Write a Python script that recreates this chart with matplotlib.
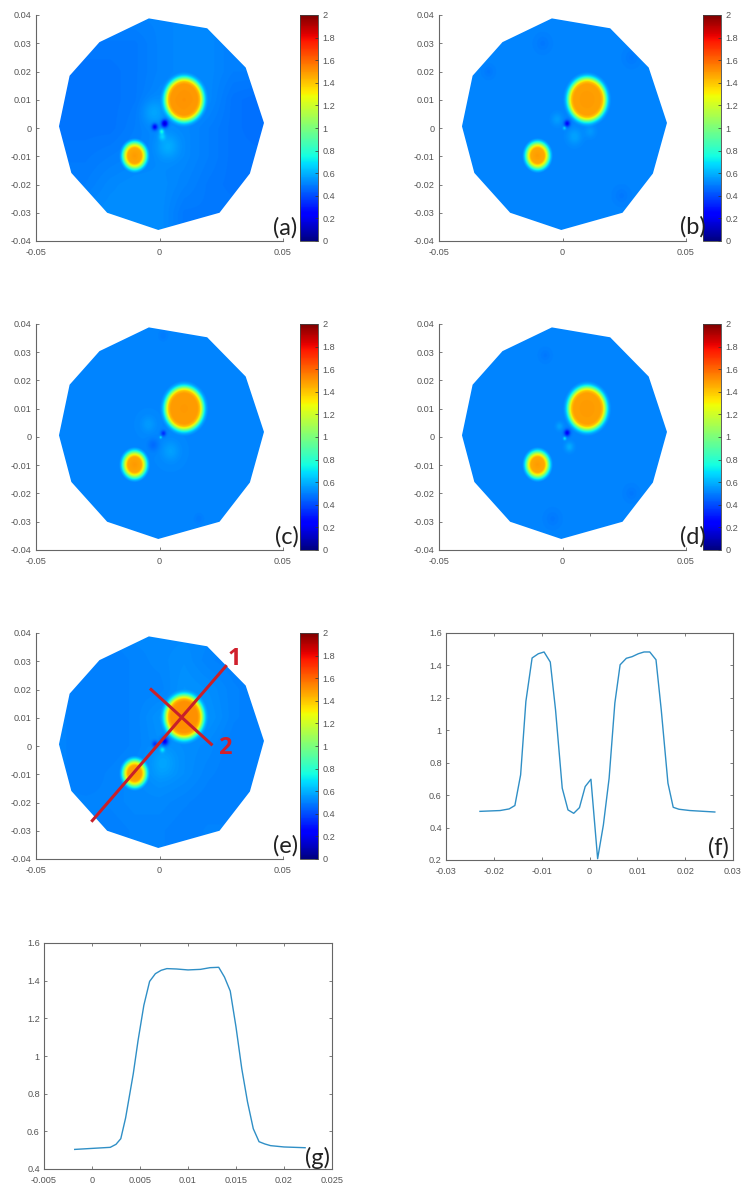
import numpy as np
import matplotlib
matplotlib.use("Agg")
import matplotlib.pyplot as plt
from matplotlib.patches import Polygon

W, H = 741, 1184
plt.rcParams["font.family"] = ["Liberation Sans", "DejaVu Sans"]

# domain outline, same for all maps
poly_x = [-0.0043, 0.0193, 0.0349, 0.0423, 0.0366, 0.0243, -0.0005, -0.0212, -0.0357, -0.0407, -0.0364, -0.0243]
poly_y = [0.0388, 0.0353, 0.0214, 0.0018, -0.0161, -0.0300, -0.0361, -0.0300, -0.0159, 0.0006, 0.0185, 0.0304]

# radial profiles of the two inclusions
big_center = (0.0100, 0.0101)
big_r = [0, 0.0055, 0.0064, 0.0071, 0.0077, 0.0083, 0.0090, 0.0098]
big_v = [0.98, 0.97, 0.89, 0.66, 0.41, 0.19, 0.06, 0.0]
small_center = (-0.0101, -0.0098)
small_r = [0, 0.0028, 0.0035, 0.0042, 0.0048, 0.0054, 0.0062]
small_v = [0.98, 0.95, 0.80, 0.55, 0.30, 0.12, 0.0]

# coarse background estimates, rows from y=0.04 down to y=-0.04, columns x=-0.04 to 0.04
bg_grid = [-0.04, -0.03, -0.02, -0.01, 0, 0.01, 0.02, 0.03, 0.04]
bg_a = [[0.51, 0.51, 0.51, 0.51, 0.51, 0.52, 0.52, 0.51, 0.51],
        [0.49, 0.49, 0.49, 0.49, 0.51, 0.52, 0.52, 0.50, 0.50],
        [0.48, 0.48, 0.48, 0.49, 0.51, 0.52, 0.52, 0.50, 0.50],
        [0.48, 0.48, 0.48, 0.49, 0.52, 0.53, 0.52, 0.48, 0.47],
        [0.48, 0.48, 0.48, 0.50, 0.52, 0.52, 0.50, 0.48, 0.47],
        [0.49, 0.49, 0.50, 0.51, 0.52, 0.52, 0.50, 0.48, 0.48],
        [0.50, 0.50, 0.52, 0.53, 0.53, 0.51, 0.49, 0.48, 0.48],
        [0.51, 0.52, 0.53, 0.53, 0.53, 0.49, 0.49, 0.49, 0.49],
        [0.51, 0.52, 0.53, 0.53, 0.53, 0.49, 0.49, 0.49, 0.49]]
bg_b = [[0.51] * 9] * 9
bg_c = [[0.515] * 9] * 9
bg_d = [[0.51] * 9] * 9
bg_e = [[0.51, 0.51, 0.51, 0.52, 0.52, 0.52, 0.52, 0.51, 0.51],
        [0.50, 0.50, 0.50, 0.51, 0.52, 0.53, 0.51, 0.50, 0.50],
        [0.51, 0.50, 0.50, 0.51, 0.51, 0.54, 0.53, 0.51, 0.50],
        [0.51, 0.50, 0.50, 0.51, 0.54, 0.54, 0.54, 0.51, 0.50],
        [0.51, 0.50, 0.50, 0.51, 0.53, 0.53, 0.52, 0.50, 0.50],
        [0.51, 0.50, 0.51, 0.52, 0.54, 0.53, 0.51, 0.50, 0.50],
        [0.51, 0.51, 0.51, 0.52, 0.52, 0.51, 0.50, 0.50, 0.50],
        [0.51, 0.51, 0.50, 0.51, 0.51, 0.50, 0.51, 0.51, 0.51],
        [0.51, 0.51, 0.50, 0.51, 0.51, 0.50, 0.51, 0.51, 0.51]]

# local spots: x, y, amplitude, width
spots_a = [(0.0021, 0.0016, -0.38, 0.0009), (-0.0019, 0.0004, -0.28, 0.0008), (0.0009, -0.0012, 0.22, 0.0006),
           (0.0011, -0.0030, 0.12, 0.0009), (-0.0025, 0.0055, 0.06, 0.0030), (0.0034, -0.0065, 0.07, 0.0030)]
spots_b = [(0.0019, 0.0016, -0.26, 0.0008), (0.0008, 0.0000, 0.18, 0.0004), (-0.0022, 0.0031, 0.05, 0.0015),
           (0.0049, -0.0030, 0.06, 0.0020), (0.0112, -0.0012, 0.04, 0.0015), (-0.0080, 0.0300, -0.02, 0.0020),
           (0.0280, 0.0250, -0.02, 0.0020), (0.0240, -0.0240, -0.02, 0.0020), (-0.0300, 0.0200, -0.02, 0.0015)]
spots_c = [(0.0016, 0.0013, -0.18, 0.0007), (0.0005, -0.0001, 0.22, 0.0003), (-0.0045, 0.0045, 0.04, 0.0020),
           (0.0045, -0.0050, 0.05, 0.0025), (-0.0025, -0.0028, -0.05, 0.0015), (0.0160, -0.0290, -0.02, 0.0015),
           (0.0015, 0.0360, -0.02, 0.0015)]
spots_d = [(0.0019, 0.0015, -0.28, 0.0008), (0.0009, -0.0005, 0.22, 0.0004), (-0.0012, 0.0038, 0.06, 0.0010),
           (0.0028, -0.0035, 0.08, 0.0012), (-0.0070, 0.0290, -0.02, 0.0015), (0.0280, -0.0200, -0.02, 0.0018),
           (-0.0040, -0.0290, -0.02, 0.0020)]
spots_e = [(0.0021, 0.0015, -0.30, 0.0010), (-0.0018, 0.0005, -0.18, 0.0008), (0.0012, -0.0015, 0.18, 0.0006),
           (0.0015, -0.0060, 0.04, 0.0035)]

panels = [
    ("(a)", bg_a, spots_a, (36, 15), (285, 228)),
    ("(b)", bg_b, spots_b, (439, 15), (693, 227)),
    ("(c)", bg_c, spots_c, (36, 324), (287, 537)),
    ("(d)", bg_d, spots_d, (439, 324), (693, 537)),
    ("(e)", bg_e, spots_e, (36, 633), (286, 846)),
]

# section lines on map (e)
line1_x = [-0.0272, 0.0268]
line1_y = [-0.0264, 0.0282]
line2_x = [-0.0034, 0.0210]
line2_y = [0.0200, 0.0006]

# section 1 (f)
f_x = [-0.0229, -0.0187, -0.0168, -0.0156, -0.0144, -0.0133, -0.0120, -0.0107, -0.0095, -0.0082, -0.0071, -0.0057,
       -0.0045, -0.0033, -0.0021, -0.0009, 0.0003, 0.0017, 0.0029, 0.0041, 0.0053, 0.0064, 0.0077, 0.0089, 0.0102,
       0.0114, 0.0126, 0.0139, 0.0150, 0.0164, 0.0175, 0.0187, 0.0210, 0.0262]
f_y = [0.50, 0.505, 0.515, 0.536, 0.725, 1.178, 1.446, 1.472, 1.483, 1.421, 1.126, 0.643, 0.509, 0.488, 0.523, 0.653,
       0.698, 0.208, 0.416, 0.704, 1.168, 1.404, 1.444, 1.454, 1.472, 1.483, 1.483, 1.435, 1.126, 0.674, 0.525, 0.513,
       0.505, 0.496]

# section 2 (g)
g_x = [-0.0018, 0.0019, 0.0025, 0.0030, 0.0035, 0.0043, 0.0048, 0.0054, 0.0060, 0.0066, 0.0072, 0.0078, 0.0088, 0.0100,
       0.0113, 0.0123, 0.0132, 0.0138, 0.0144, 0.0150, 0.0156, 0.0162, 0.0168, 0.0174, 0.0180, 0.0186, 0.0200, 0.0222]
g_y = [0.504, 0.515, 0.531, 0.561, 0.671, 0.906, 1.083, 1.269, 1.396, 1.437, 1.455, 1.464, 1.462, 1.457, 1.460, 1.469,
       1.471, 1.419, 1.345, 1.154, 0.933, 0.756, 0.614, 0.545, 0.533, 0.524, 0.517, 0.513]

GRAY = "#666666"
TEXT = "#555555"
FS = 6.6


def px_axes(left, top, right, bottom):
    return fig.add_axes([left / W, 1 - bottom / H, (right - left) / W, (bottom - top) / H])


def style(ax, box=False):
    for side in ["top", "right"]:
        ax.spines[side].set_visible(box)
    for s in ax.spines.values():
        s.set_color(GRAY)
        s.set_linewidth(0.8)
    ax.tick_params(direction="in", length=2, width=0.6, color=GRAY, labelcolor=TEXT, labelsize=FS, top=box, right=box)
    ax.tick_params(axis="x", pad=5)
    ax.tick_params(axis="y", pad=3)


def fmt(vals):
    return ["%g" % round(v, 4) for v in vals]


def background(table, xs, ys):
    # bilinear lookup in the coarse table
    table = np.array(table)[::-1]
    rows = np.array([np.interp(xs, bg_grid, row) for row in table])
    return np.array([[np.interp(y, bg_grid, rows[:, j]) for j in range(len(xs))] for y in ys])


def make_field(table, spots):
    xs = np.linspace(-0.05, 0.05, 500)
    ys = np.linspace(-0.04, 0.04, 460)
    X, Y = np.meshgrid(xs, ys)
    Z = background(table, xs, ys)
    for c, r_, v_ in [(big_center, big_r, big_v), (small_center, small_r, small_v)]:
        r = np.hypot(X - c[0], Y - c[1])
        Z = Z + np.interp(r, r_, v_, right=0.0)
    for sx, sy, amp, w in spots:
        Z = Z + amp * np.exp(-((X - sx) ** 2 + (Y - sy) ** 2) / (2 * w ** 2))
    return Z


fig = plt.figure(figsize=(W / 100, H / 100), dpi=100)

for label, table, spots, (left, top), (lx, ly) in panels:
    ax = px_axes(left, top, left + 247, top + 226)
    im = ax.imshow(make_field(table, spots), origin="lower", extent=[-0.05, 0.05, -0.04, 0.04], aspect="auto",
                   cmap="jet", vmin=0, vmax=2, interpolation="bilinear")
    outline = Polygon(np.column_stack([poly_x, poly_y]), closed=True, transform=ax.transData, fc="none", ec="none")
    ax.add_patch(outline)
    im.set_clip_path(outline)
    ax.set_xlim(-0.05, 0.05)
    ax.set_ylim(-0.04, 0.04)
    ax.set_xticks([-0.05, 0, 0.05], fmt([-0.05, 0, 0.05]))
    yt = np.round(np.arange(-0.04, 0.041, 0.01), 2)
    ax.set_yticks(yt, fmt(yt))
    style(ax)

    cax = px_axes(left + 264, top, left + 282, top + 226)
    cb = fig.colorbar(im, cax=cax, ticks=np.round(np.arange(0, 2.01, 0.2), 1))
    cb.ax.set_yticklabels(fmt(np.arange(0, 2.01, 0.2)))
    cb.ax.tick_params(direction="in", length=2, width=0.5, color="#333333", labelcolor=TEXT, labelsize=FS, pad=3)
    cb.outline.set_edgecolor("#444444")
    cb.outline.set_linewidth(0.6)

    if label == "(e)":
        ax.plot(line1_x, line1_y, color="#c8202a", lw=2.2)
        ax.plot(line2_x, line2_y, color="#c8202a", lw=2.2)
        ax.text(0.0302, 0.0309, "1", color="#d0202c", fontsize=17, fontweight="bold", family="Open Sans",
                ha="center", va="center")
        ax.text(0.0264, -0.0008, "2", color="#d0202c", fontsize=17, fontweight="bold", family="Open Sans",
                ha="center", va="center")
    fig.text(lx / W, 1 - ly / H, label, fontsize=17, family="Lato", color="#222222", ha="center", va="center")

ax = px_axes(446, 633, 733, 860)
ax.plot(f_x, f_y, color="#2f8fc6", lw=1.0)
ax.set_xlim(-0.03, 0.03)
ax.set_ylim(0.2, 1.6)
xt = np.round(np.arange(-0.03, 0.031, 0.01), 2)
ax.set_xticks(xt, fmt(xt))
yt = np.round(np.arange(0.2, 1.61, 0.2), 1)
ax.set_yticks(yt, fmt(yt))
style(ax, box=True)
fig.text(718 / W, 1 - 848 / H, "(f)", fontsize=17, family="Lato", color="#222222", ha="center", va="center")

ax = px_axes(44, 943, 332, 1169)
ax.plot(g_x, g_y, color="#2f8fc6", lw=1.0)
ax.set_xlim(-0.005, 0.025)
ax.set_ylim(0.4, 1.6)
xt = np.round(np.arange(-0.005, 0.0251, 0.005), 3)
ax.set_xticks(xt, fmt(xt))
yt = np.round(np.arange(0.4, 1.61, 0.2), 1)
ax.set_yticks(yt, fmt(yt))
style(ax, box=True)
fig.text(318 / W, 1 - 1158 / H, "(g)", fontsize=17, family="Lato", color="#222222", ha="center", va="center")

fig.savefig("out.png", dpi=100)
